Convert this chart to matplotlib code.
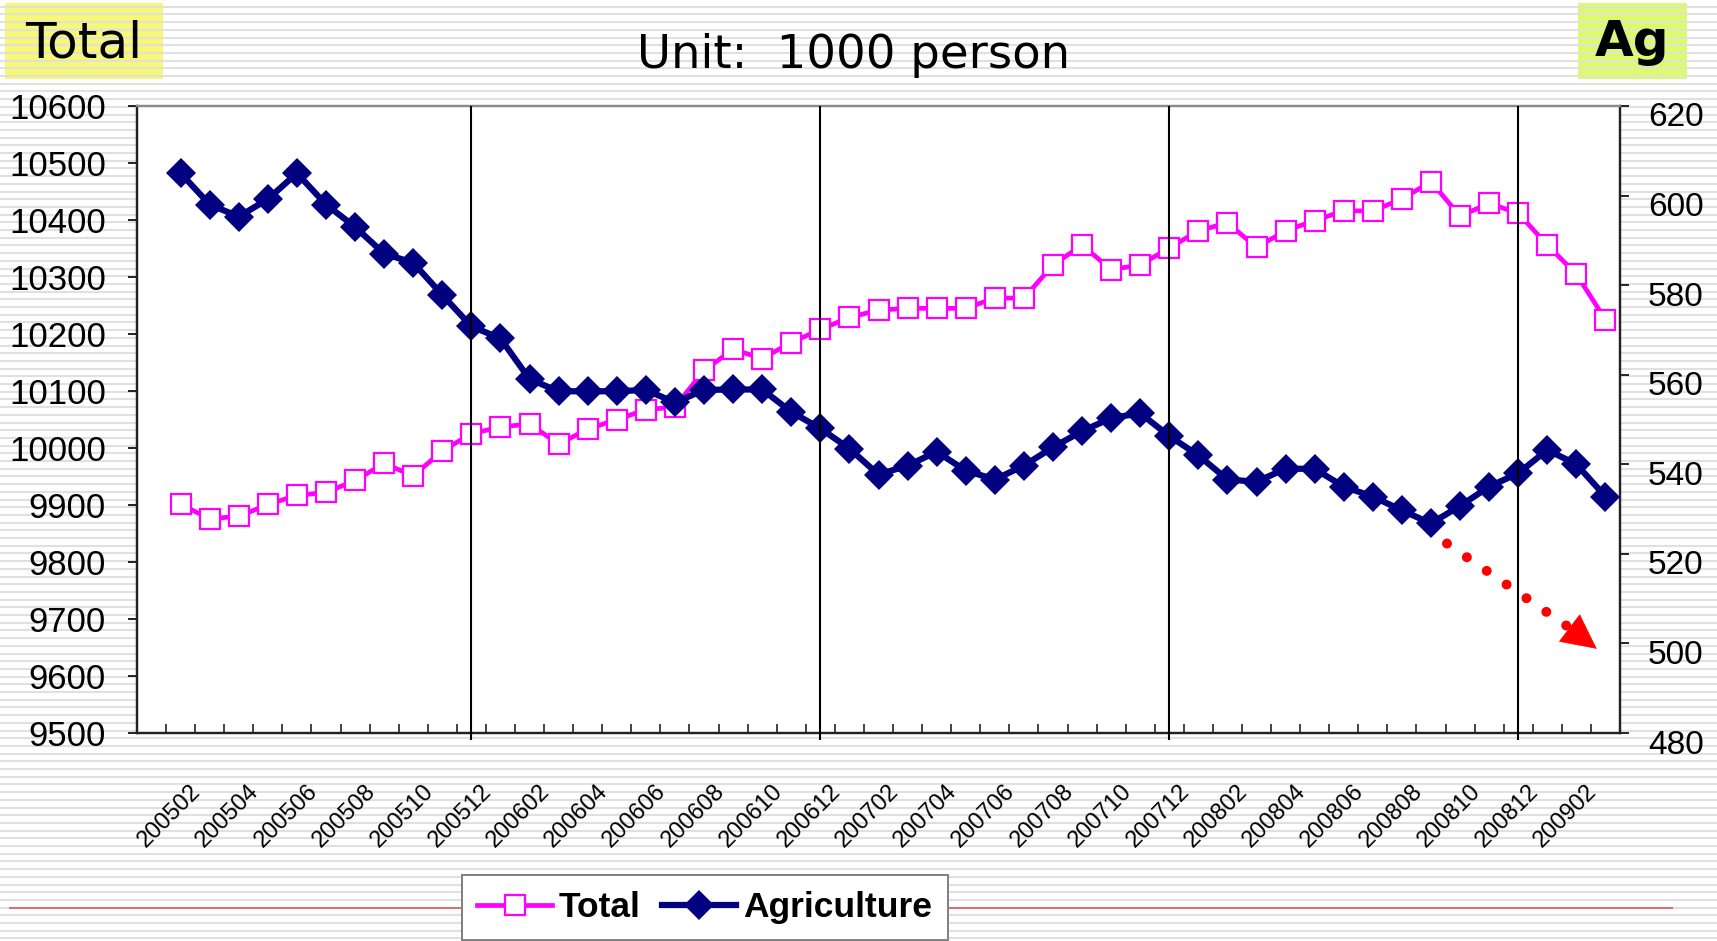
import numpy as np
import matplotlib
matplotlib.use("Agg")
import matplotlib.pyplot as plt
from matplotlib.patches import Rectangle
from matplotlib.transforms import ScaledTranslation, blended_transform_factory

# Data (1000 persons), monthly 200502 .. 200903
months = [f"{y}{m:02d}" for y in (2005, 2006, 2007, 2008, 2009) for m in range(1, 13)]
months = months[months.index("200502"):months.index("200903") + 1]

total = [9901, 9876, 9880, 9901, 9917, 9922, 9943, 9973, 9951, 9995,
         10025, 10037, 10042, 10007, 10033, 10050, 10067, 10072, 10136, 10173,
         10157, 10185, 10208, 10229, 10242, 10245, 10245, 10245, 10263, 10263,
         10321, 10356, 10313, 10321, 10351, 10381, 10395, 10352, 10381, 10399,
         10416, 10416, 10437, 10467, 10407, 10429, 10412, 10356, 10305, 10225]

agriculture = [605, 598, 595.3, 599.2, 605, 598, 593, 587, 585, 577.8,
               570.8, 568.1, 559, 556.3, 556.3, 556.3, 556.6, 553.8, 556.6, 556.7,
               556.7, 551.7, 548, 543.5, 537.7, 539.7, 542.8, 538.6, 536.6, 539.7,
               543.8, 547.4, 550.3, 551.4, 546.3, 542, 536.6, 536.1, 539, 539,
               535, 532.8, 529.7, 526.8, 530.7, 535, 538, 543.2, 540, 532.8]

year_end = ["200512", "200612", "200712", "200812"]
tick_labels = months[::2][:25]          # 200502 ... 200902

# red trend arrow (right axis units)
trend_start = (43.55, 522.3)
trend_last_dot = (47.65, 504.0)
trend_tip = (48.7, 498.8)

W, H = 1717, 941
fig = plt.figure(figsize=(W / 100, H / 100), dpi=100, facecolor="white")

# slide background with thin stripes
bg = fig.add_axes([0, 0, 1, 1], zorder=-10)
bg.set_xlim(0, W)
bg.set_ylim(H, 0)
bg.axis("off")
bg.hlines(np.arange(6.7, H, 7.7), 0, W, color="#E0E0E0", lw=1.5)
bg.hlines(908, 9, 1673, color="#E05A5A", lw=1.2)

bg.add_patch(Rectangle((5, 3), 158, 76, facecolor="#F8F872", edgecolor="none"))
bg.text(84, 43, "Total", fontsize=36, family="DejaVu Sans", ha="center", va="center")
bg.add_patch(Rectangle((1578, 3), 109, 76, facecolor="#DCFC66", edgecolor="none"))
bg.text(1632, 42, "Ag", fontsize=36, family="DejaVu Sans", fontweight="bold",
        ha="center", va="center")
bg.text(854, 55, "Unit:  1000 person", fontsize=33.5, family="DejaVu Sans",
        ha="center", va="center")

# main chart
ax = fig.add_axes([137 / W, 1 - 733 / H, (1620 - 137) / W, (733 - 106) / H])
ax.set_facecolor("white")
x = np.arange(len(months))

ax.plot(x, total, color="#FF00FF", lw=3.4, marker="s", ms=14.4,
        mfc="white", mec="#FF00FF", mew=1.6, label="Total", zorder=3)
ax.set_xlim(-1.5, 49.5)
ax.set_ylim(9500, 10600)
ax.set_yticks(np.arange(9500, 10601, 100))
ax.tick_params(axis="y", direction="out", length=6.5, width=1.2, pad=16,
               labelsize=25, labelfontfamily="Liberation Sans")
ax.set_xticks(np.arange(-0.5, 49, 1))
ax.set_xticklabels([])
ax.tick_params(axis="x", direction="in", length=6.5, width=1.2, color="#222222")

ax2 = ax.twinx()
ax2.plot(x, agriculture, color="#000080", lw=4.5, marker="D", ms=14.8,
         mfc="#000080", mec="#000080", mew=0, label="Agriculture", zorder=4)
ax2.set_ylim(480, 620)
ax2.set_yticks(np.arange(480, 621, 20))
ax2.set_yticklabels([])
ax2.tick_params(axis="y", direction="out", length=6.8, width=1.2)

for a in (ax, ax2):
    for side in ("left", "bottom", "right"):
        a.spines[side].set_color("#222222")
        a.spines[side].set_linewidth(1.6)
    a.spines["top"].set_color("#8A8A8A")
    a.spines["top"].set_linewidth(1.6)

# right tick labels, sitting a little below their ticks
rtrans = ax2.get_yaxis_transform() + ScaledTranslation(0.28, -0.12, fig.dpi_scale_trans)
for v in np.arange(480, 621, 20):
    ax2.text(1, v, f"{v}", transform=rtrans, ha="left", va="center",
             fontsize=24, family="Liberation Sans", clip_on=False)

# rotated month labels
xtrans = blended_transform_factory(ax.transData, ax.transAxes) + \
    ScaledTranslation(0.17, -0.55, fig.dpi_scale_trans)
for lab in tick_labels:
    ax.text(months.index(lab), 0, lab, transform=xtrans, rotation=45,
            rotation_mode="anchor", ha="right", va="center",
            fontsize=17, family="Liberation Sans", clip_on=False)

# year separators
vtrans = blended_transform_factory(ax2.transData, ax2.transAxes)
ax2.vlines([months.index(m) for m in year_end], -0.011, 1, transform=vtrans,
           color="black", lw=1.5, zorder=6, clip_on=False)

# red dotted trend arrow
ax2.plot([trend_start[0], trend_last_dot[0]], [trend_start[1], trend_last_dot[1]],
         color="#FF0000", lw=7.2, linestyle=(0, (0.001, 2.41)),
         dash_capstyle="round", zorder=5)
ax2.annotate("", xy=trend_tip, xytext=trend_last_dot,
             arrowprops=dict(arrowstyle="-|>,head_length=2.4,head_width=1.2",
                             color="#FF0000", lw=0.5, mutation_scale=10,
                             shrinkA=0, shrinkB=0), zorder=5)

h1, l1 = ax.get_legend_handles_labels()
h2, l2 = ax2.get_legend_handles_labels()
leg = fig.legend(h1 + h2, l1 + l2, loc="upper center", ncol=2,
                 bbox_to_anchor=(705 / W, 1 - 875 / H),
                 prop={"family": "Liberation Sans", "weight": "bold", "size": 25.5},
                 frameon=True, fancybox=False, framealpha=1, edgecolor="#808080",
                 handlelength=2.1, handletextpad=0.2, columnspacing=0.6,
                 borderpad=0.45, borderaxespad=0)
leg.get_frame().set_linewidth(1.4)

fig.savefig("out.png", dpi=100, facecolor="white")
